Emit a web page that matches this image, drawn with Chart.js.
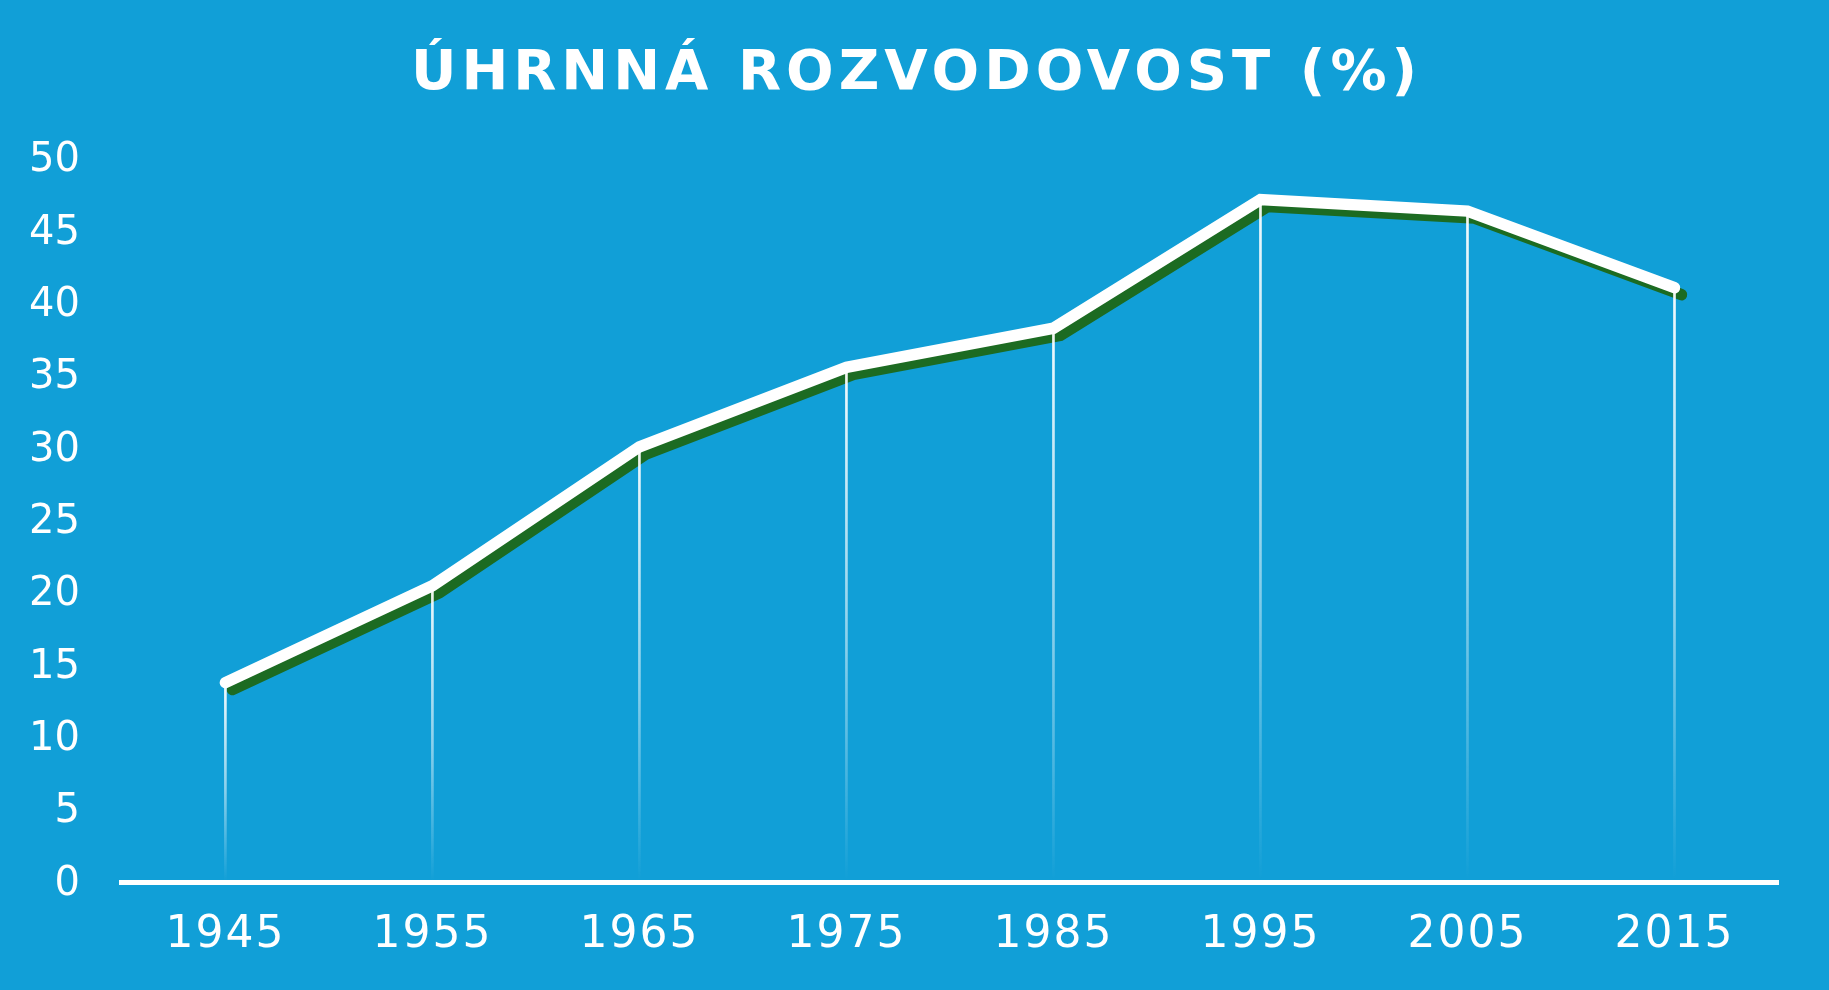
<!DOCTYPE html>
<html>
<head>
<meta charset="utf-8">
<script src="https://cdn.jsdelivr.net/npm/chart.js@4.4.1/dist/chart.umd.min.js"></script>
<style>
    html, body { margin: 0; padding: 0; background: #119fd7; }
    #wrap { width: 1829px; height: 990px; }
</style>
</head>
<body>
<div id="wrap"><canvas id="rateChart"></canvas></div>
<script>
const titleText = 'ÚHRNNÁ ROZVODOVOST (%)';
const years = ['1945', '1955', '1965', '1975', '1985', '1995', '2005', '2015'];
const divorceRate = [13.8, 20.5, 30.1, 35.6, 38.3, 47.2, 46.4, 41.1];
const yMin = 0;
const yMax = 50;
const yStep = 5;

const GREEN = '#1c6b22';
const shadowShift = { x: 7, y: 7 };

// green copy of the line, shifted down/right so it reads as a hard shadow
const shiftedLine = {
    id: 'shiftedLine',
    beforeDatasetDraw(chart, args) {
        if (args.index !== 0) return;
        chart.ctx.save();
        chart.ctx.translate(shadowShift.x, shadowShift.y);
    },
    afterDatasetDraw(chart, args) {
        if (args.index !== 0) return;
        chart.ctx.restore();
    }
};

// x tick labels are drawn after the datasets (ticks.z = 1), spaced out a little
const spacedTicks = {
    id: 'spacedTicks',
    beforeDraw(chart) { chart.ctx.letterSpacing = '0px'; },
    afterDatasetsDraw(chart) { chart.ctx.letterSpacing = '2px'; },
    afterDraw(chart) { chart.ctx.letterSpacing = '0px'; }
};

// title drawn by hand because the built-in one has no letter spacing
const spacedTitle = {
    id: 'spacedTitle',
    afterDraw(chart) {
        const ctx = chart.ctx;
        ctx.save();
        ctx.font = 'bold 56px "DejaVu Sans"';
        ctx.letterSpacing = '5px';
        ctx.fillStyle = '#ffffff';
        ctx.textAlign = 'center';
        ctx.textBaseline = 'alphabetic';
        ctx.fillText(titleText, chart.width / 2 + 2, 89);
        ctx.restore();
    }
};

function dropGradient(context) {
    const chart = context.chart;
    const area = chart.chartArea;
    if (!area) return 'rgba(255,255,255,0.8)';
    const top = chart.scales.y.getPixelForValue(context.raw);
    const g = chart.ctx.createLinearGradient(0, top, 0, area.bottom);
    g.addColorStop(0, 'rgba(255,255,255,0.95)');
    g.addColorStop(0.55, 'rgba(255,255,255,0.5)');
    g.addColorStop(1, 'rgba(255,255,255,0)');
    return g;
}

Chart.defaults.font.family = '"DejaVu Sans"';
Chart.defaults.color = '#ffffff';

const ctx = document.getElementById('rateChart').getContext('2d');
const rateChart = new Chart(ctx, {
    data: {
        labels: years,
        datasets: [
            {
                type: 'line',
                data: divorceRate,
                borderColor: GREEN,
                borderWidth: 11.5,
                borderCapStyle: 'round',
                borderJoinStyle: 'miter',
                pointRadius: 0,
                tension: 0,
                clip: false,
                order: 3
            },
            {
                type: 'bar',
                data: divorceRate,
                backgroundColor: dropGradient,
                borderWidth: 0,
                barThickness: 2,
                order: 2
            },
            {
                type: 'line',
                data: divorceRate,
                borderColor: '#ffffff',
                borderWidth: 11.5,
                borderCapStyle: 'round',
                borderJoinStyle: 'miter',
                pointRadius: 0,
                tension: 0,
                clip: false,
                order: 1
            }
        ]
    },
    options: {
        responsive: true,
        maintainAspectRatio: false,
        animation: false,
        layout: {
            padding: { top: 159, left: 29, right: 51, bottom: 1 }
        },
        plugins: {
            legend: { display: false },
            tooltip: { enabled: false },
            title: { display: false }
        },
        scales: {
            x: {
                offset: true,
                grid: { display: false, drawTicks: false },
                border: { display: true, color: '#ffffff', width: 5 },
                ticks: {
                    color: '#ffffff',
                    font: { size: 44 },
                    padding: 27,
                    maxRotation: 0,
                    autoSkip: false,
                    z: 1
                }
            },
            y: {
                min: yMin,
                max: yMax,
                grid: { display: false, drawTicks: false },
                border: { display: false },
                ticks: {
                    stepSize: yStep,
                    color: '#ffffff',
                    font: { size: 40 },
                    padding: 42,
                    labelOffset: 2
                },
                // chart.js counts the tick padding twice in the axis width
                afterFit(scale) {
                    scale.width -= scale.options.ticks.padding;
                }
            }
        }
    },
    plugins: [shiftedLine, spacedTicks, spacedTitle]
});
</script>
</body>
</html>
